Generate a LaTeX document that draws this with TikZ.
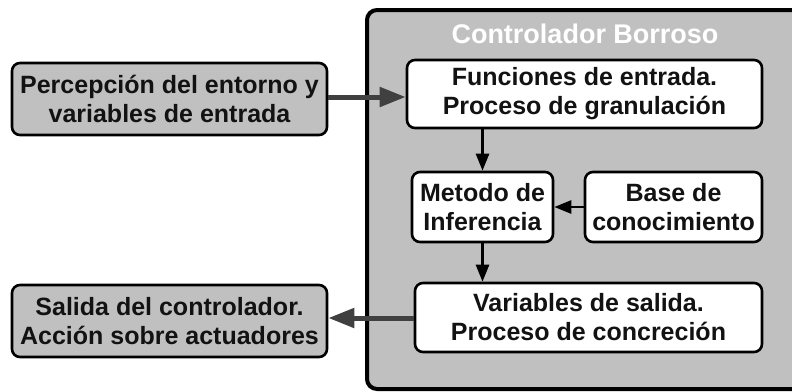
\documentclass[tikz,border=0pt]{standalone}
\usepackage{fontspec}
\setmainfont{Liberation Sans}
\usetikzlibrary{arrows.meta,positioning}

\definecolor{fondo}{RGB}{192,192,192}
\definecolor{flecha}{RGB}{64,64,64}

\begin{document}
\begin{tikzpicture}[x=1pt,y=-1pt,
    caja/.style={draw,line width=2.6pt,rounded corners=8pt,align=center,
      inner sep=0pt,font=\fontsize{25}{29}\selectfont\bfseries,text=black!93},
    externa/.style={caja,fill=fondo},
    interna/.style={caja,fill=white},
    gruesa/.style={draw=flecha,line width=5pt,-{Triangle[length=26pt,width=19pt]}},
    fina/.style={draw=black,line width=2.6pt,-{Triangle[length=17pt,width=13pt]}}]
    \clip (0,0) rectangle (792,391);
    % contenedor
    \node[draw,line width=4pt,rounded corners=10pt,fill=fondo,minimum width=446pt,
      minimum height=379pt] (ctrl) at (590,199.5) {};
    \node[anchor=base,text=white,font=\fontsize{27}{31}\selectfont\bfseries] (titulo)
      at (585,43) {Controlador Borroso};
    % bloques
    \node[externa,minimum width=315pt,minimum height=72pt] (perc) at (169.5,99)
      {Percepción del entorno y\\variables de entrada};
    \node[externa,minimum width=315pt,minimum height=72pt] (sal) at (169.5,321)
      {Salida del controlador.\\Acción sobre actuadores};
    \node[interna,minimum width=355pt,minimum height=68pt] (func) at (584.5,94)
      {Funciones de entrada.\\Proceso de granulación};
    \node[interna,minimum width=141pt,minimum height=70pt] (meto) at (482.5,207)
      {Metodo de\\Inferencia};
    \node[interna,minimum width=177pt,minimum height=70pt] (base) at (673.5,207)
      {Base de\\conocimiento};
    \node[interna,minimum width=347pt,minimum height=69pt] (vari) at (588.5,317.5)
      {Variables de salida.\\Proceso de concreción};
    % conexiones
    \draw[gruesa] (perc.east |- 0,97) -- (func.west |- 0,97);
    \draw[gruesa] (vari.west |- 0,318) -- (sal.east |- 0,318);
    \draw[fina] (func.south -| meto) -- (meto.north);
    \draw[fina] (base) -- (meto);
    \draw[fina] (meto) -- (meto |- vari.north);
\end{tikzpicture}
\end{document}
